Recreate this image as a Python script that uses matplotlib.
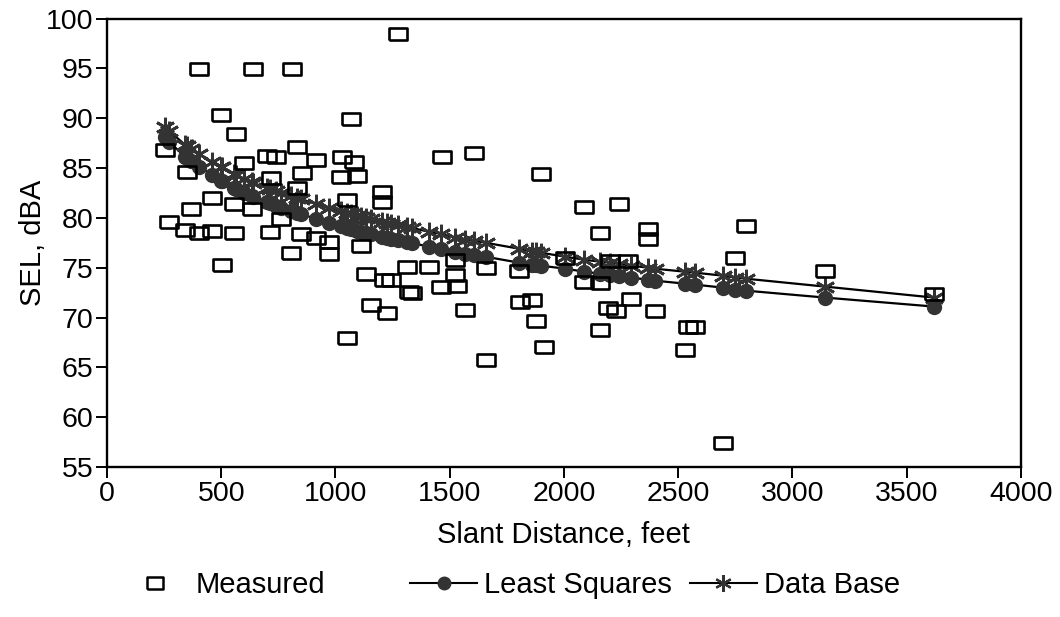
import matplotlib

matplotlib.use("Agg")
import matplotlib.pyplot as plt
from matplotlib.lines import Line2D

plt.rcParams["font.family"] = ["Liberation Sans", "DejaVu Sans"]

measured_dist = [
    1273, 404, 640, 809, 499, 566, 1067, 252, 701, 739,
    832, 914, 1029, 1081, 601, 1023, 1094, 717, 853, 352,
    460, 557, 634, 832, 1051, 1203, 1203, 368, 273, 343,
    404, 461, 557, 714, 761, 848, 805, 972, 972, 1110,
    505, 914, 1132, 1212, 1241, 1313, 1409, 1321, 1460, 1154,
    1225, 1051, 1334, 1605, 1901, 2090, 2241, 2159, 2369, 2369,
    2796, 2749, 1525, 1525, 1531, 1569, 1658, 1658, 1805, 1809,
    1859, 1876, 1911, 2006, 2090, 2159, 2202, 2195, 2230, 2295,
    2159, 2282, 2399, 2544, 2575, 2530, 2697, 3145, 3621, 1467,
]
measured_sel = [
    98.4, 94.9, 94.9, 94.9, 90.3, 88.4, 89.9, 86.8, 86.2, 86.1,
    87.1, 85.8, 86.1, 85.6, 85.5, 84.1, 84.2, 84.0, 84.5, 84.6,
    82.0, 81.4, 80.9, 83.0, 81.8, 82.6, 81.6, 80.9, 79.6, 78.8,
    78.5, 78.7, 78.5, 78.6, 79.9, 78.4, 76.5, 77.6, 76.4, 77.2,
    75.3, 78.0, 74.4, 73.8, 73.8, 75.1, 75.1, 72.6, 73.1, 71.3,
    70.5, 67.9, 72.5, 86.5, 84.4, 81.1, 81.4, 78.5, 78.9, 77.9,
    79.2, 76.0, 74.3, 75.8, 73.2, 70.8, 75.0, 65.7, 74.7, 71.6,
    71.8, 69.7, 67.0, 76.0, 73.6, 73.5, 75.7, 71.0, 70.7, 71.9,
    68.8, 75.7, 70.7, 69.1, 69.1, 66.7, 57.4, 74.7, 72.4, 86.1,
]

# curves are evaluated at the measured distances
curve_dist = [
    252, 273, 343, 352, 368, 404, 460, 499, 505, 557,
    566, 601, 634, 640, 701, 714, 739, 761, 805, 832,
    848, 914, 972, 1023, 1051, 1067, 1094, 1110, 1132, 1154,
    1203, 1225, 1241, 1273, 1313, 1334, 1409, 1460, 1525, 1569,
    1605, 1658, 1805, 1859, 1876, 1901, 2006, 2090, 2159, 2202,
    2241, 2295, 2369, 2399, 2530, 2575, 2697, 2749, 2796, 3145,
    3621,
]
least_squares_sel = [
    88.1, 87.6, 86.1, 86.0, 85.7, 85.1, 84.3, 83.7, 83.7, 83.0,
    82.9, 82.5, 82.2, 82.1, 81.6, 81.5, 81.2, 81.0, 80.7, 80.5,
    80.4, 79.9, 79.5, 79.2, 79.0, 78.9, 78.7, 78.6, 78.5, 78.4,
    78.1, 78.0, 77.9, 77.8, 77.6, 77.5, 77.1, 76.9, 76.6, 76.4,
    76.3, 76.1, 75.5, 75.3, 75.3, 75.2, 74.9, 74.6, 74.4, 74.3,
    74.2, 74.0, 73.8, 73.7, 73.4, 73.3, 73.0, 72.8, 72.7, 72.0,
    71.1,
]
data_base_sel = [
    89.1, 88.7, 87.3, 87.2, 86.9, 86.4, 85.6, 85.1, 85.1, 84.4,
    84.3, 83.9, 83.6, 83.5, 83.0, 82.9, 82.7, 82.5, 82.2, 82.0,
    81.9, 81.4, 81.0, 80.7, 80.5, 80.4, 80.2, 80.1, 80.0, 79.9,
    79.6, 79.5, 79.4, 79.3, 79.1, 79.0, 78.6, 78.4, 78.0, 77.8,
    77.7, 77.5, 76.9, 76.6, 76.6, 76.5, 76.1, 75.8, 75.6, 75.5,
    75.4, 75.2, 75.0, 74.9, 74.6, 74.5, 74.2, 74.0, 73.9, 73.1,
    72.0,
]

x_ticks = [0, 500, 1000, 1500, 2000, 2500, 3000, 3500, 4000]
y_ticks = [55, 60, 65, 70, 75, 80, 85, 90, 95, 100]

# wide open rectangle, like the plotter's box symbol
RECT = [(-1.4, -1.0), (1.4, -1.0), (1.4, 1.0), (-1.4, 1.0), (-1.4, -1.0)]
STAR = (6, 2, 0)
MARK_GRAY = "#333333"


def main() -> None:
    fig = plt.figure(figsize=(10.6, 6.17), dpi=100)
    ax = fig.add_axes([0.101, 0.243, 0.862, 0.727])

    ax.plot(curve_dist, least_squares_sel, color="black", lw=1.6,
            marker="o", ms=10, mfc=MARK_GRAY, mec=MARK_GRAY, zorder=2)
    ax.plot(curve_dist, data_base_sel, color="black", lw=1.6,
            marker=STAR, ms=14, mec=MARK_GRAY, mew=2.0, zorder=3)
    ax.plot(measured_dist, measured_sel, ls="none", marker=RECT, ms=13,
            mfc="none", mec="black", mew=1.9, zorder=4)

    ax.set_xlim(0, 4000)
    ax.set_ylim(55, 100)
    ax.set_xticks(x_ticks)
    ax.set_yticks(y_ticks)
    ax.tick_params(direction="out", length=8, width=1.4, labelsize=20.5, pad=2)
    for side in ax.spines.values():
        side.set_linewidth(1.7)

    ax.set_xlabel("Slant Distance, feet", fontsize=21)
    ax.set_ylabel("SEL, dBA", fontsize=21)
    ax.xaxis.set_label_coords(0.5, -0.12)
    ax.yaxis.set_label_coords(-0.066, 0.5)

    meas_handle = Line2D([], [], ls="none", marker=RECT, ms=12, mfc="none",
                         mec="black", mew=1.8)
    ls_handle = Line2D([], [], color="black", lw=1.5, marker="o", ms=9,
                       mfc=MARK_GRAY, mec=MARK_GRAY)
    db_handle = Line2D([], [], color="black", lw=1.5, marker=STAR, ms=12,
                       mec=MARK_GRAY, mew=1.6)

    fig.legend([meas_handle], ["Measured"], loc="center left",
               bbox_to_anchor=(0.101, 0.052), frameon=False, fontsize=21,
               borderpad=0, handlelength=2.3, handletextpad=0.25)
    fig.legend([ls_handle, db_handle], ["Least Squares", "Data Base"],
               loc="center left", bbox_to_anchor=(0.373, 0.052), ncol=2,
               frameon=False, fontsize=21, borderpad=0, handlelength=2.3,
               handletextpad=0.25, columnspacing=0.6)

    fig.savefig("out.png", dpi=100)
    plt.close(fig)


if __name__ == "__main__":
    main()
